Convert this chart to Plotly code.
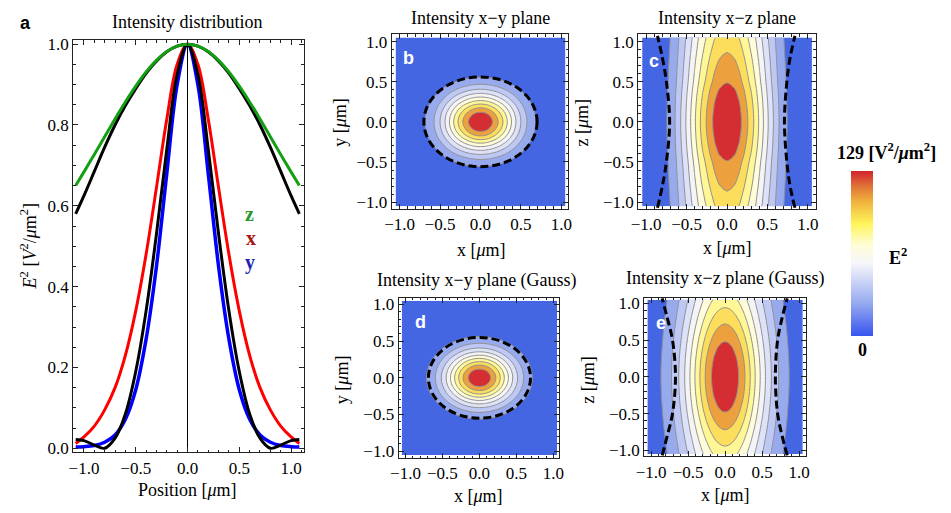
import numpy as np
import plotly.graph_objects as go

W, H = 951, 513

# ---------------- Panel a : line profiles ----------------
pos = [-1.08, -1.0, -0.9, -0.8, -0.7, -0.6, -0.5, -0.4, -0.3, -0.2, -0.1, 0.0,
       0.1, 0.2, 0.3, 0.4, 0.5, 0.6, 0.7, 0.8, 0.9, 1.0, 1.08]
z_profile = [0.65, 0.684, 0.727, 0.771, 0.815, 0.857, 0.896, 0.931, 0.96, 0.982, 0.995, 1.0,
             0.995, 0.982, 0.96, 0.931, 0.896, 0.857, 0.815, 0.771, 0.727, 0.684, 0.65]
z_fit = [0.58, 0.625, 0.685, 0.745, 0.80, 0.848, 0.89, 0.928, 0.958, 0.981, 0.995, 1.0,
         0.995, 0.981, 0.958, 0.928, 0.89, 0.848, 0.80, 0.745, 0.685, 0.625, 0.58]
x_profile = [0.012, 0.028, 0.055, 0.095, 0.15, 0.23, 0.34, 0.48, 0.645, 0.815, 0.95, 1.0,
             0.95, 0.815, 0.645, 0.48, 0.34, 0.23, 0.15, 0.095, 0.055, 0.028, 0.012]
y_profile = [0.003, 0.004, 0.007, 0.015, 0.033, 0.072, 0.145, 0.27, 0.45, 0.68, 0.90, 1.0,
             0.90, 0.68, 0.45, 0.27, 0.145, 0.072, 0.033, 0.015, 0.007, 0.004, 0.003]
xy_fit = [0.022, 0.019, 0.008, 0.0, 0.025, 0.085, 0.19, 0.34, 0.53, 0.74, 0.925, 1.0,
          0.925, 0.74, 0.53, 0.34, 0.19, 0.085, 0.025, 0.0, 0.008, 0.019, 0.022]

# ---------------- Panels b-e : field profiles (half, mirrored) ----------------
half_pos = [0.0, 0.05, 0.1, 0.15, 0.2, 0.25, 0.3, 0.35, 0.4, 0.45, 0.5, 0.55, 0.6, 0.65,
            0.7, 0.75, 0.8, 0.85, 0.9, 0.95, 1.0, 1.05]
b_x = [1.0, 0.99, 0.955, 0.90, 0.83, 0.75, 0.66, 0.565, 0.47, 0.38, 0.30, 0.23, 0.17, 0.125,
       0.09, 0.06, 0.04, 0.025, 0.015, 0.01, 0.006, 0.004]
b_y = [1.0, 0.98, 0.93, 0.85, 0.75, 0.635, 0.52, 0.41, 0.31, 0.225, 0.155, 0.105, 0.068, 0.042,
       0.025, 0.014, 0.008, 0.004, 0.002, 0.001, 0.0005, 0.0003]
c_x = [1.0, 0.99, 0.97, 0.93, 0.875, 0.81, 0.745, 0.67, 0.585, 0.5, 0.415, 0.335, 0.26, 0.19,
       0.135, 0.095, 0.065, 0.045, 0.03, 0.02, 0.015, 0.01]
c_z = [1.0, 0.999, 0.995, 0.988, 0.98, 0.97, 0.958, 0.945, 0.93, 0.912, 0.895, 0.882, 0.87, 0.857,
       0.845, 0.832, 0.818, 0.804, 0.79, 0.778, 0.765, 0.75]
d_x = [1.0, 0.989, 0.956, 0.903, 0.835, 0.754, 0.665, 0.574, 0.485, 0.40, 0.322, 0.254, 0.196,
       0.148, 0.109, 0.078, 0.055, 0.038, 0.026, 0.017, 0.011, 0.007]
d_y = [1.0, 0.982, 0.93, 0.848, 0.747, 0.634, 0.518, 0.409, 0.311, 0.228, 0.161, 0.11, 0.072,
       0.046, 0.028, 0.016, 0.009, 0.005, 0.003, 0.0014, 0.0007, 0.0003]
e_x = [1.0, 0.992, 0.97, 0.933, 0.884, 0.825, 0.758, 0.686, 0.611, 0.536, 0.463, 0.394, 0.33,
       0.272, 0.221, 0.177, 0.14, 0.108, 0.083, 0.062, 0.046, 0.034]
e_z = [1.0, 0.999, 0.995, 0.989, 0.981, 0.971, 0.958, 0.944, 0.928, 0.911, 0.892, 0.873, 0.852,
       0.831, 0.809, 0.787, 0.764, 0.742, 0.719, 0.697, 0.675, 0.653]

# dashed guides (1/e^2 outline)
b_ellipse = [0.70, 0.56]      # semi-axes x, y
d_ellipse = [0.69, 0.55]
beam_z = [-1.07, -0.8, -0.5, 0.0, 0.5, 0.8, 1.07]
c_left = [-0.86, -0.80, -0.75, -0.71, -0.75, -0.80, -0.86]
c_right = [0.84, 0.78, 0.74, 0.71, 0.74, 0.78, 0.84]
e_left = [-0.85, -0.78, -0.71, -0.67, -0.71, -0.78, -0.85]
e_right = [0.84, 0.77, 0.71, 0.68, 0.71, 0.77, 0.84]

contour_levels = [0.1, 0.9, 0.1]   # start, end, step
band_colors = ['rgb(68,102,226)', 'rgb(152,170,238)', 'rgb(190,200,245)', 'rgb(222,226,248)',
               'rgb(244,244,246)', 'rgb(255,252,218)', 'rgb(255,246,150)', 'rgb(252,222,92)',
               'rgb(236,160,62)', 'rgb(212,46,50)']
bar_colors = [[0.0, 'rgb(55,85,240)'], [0.2, 'rgb(150,170,240)'], [0.44, 'rgb(246,246,250)'],
              [0.55, 'rgb(255,253,215)'], [0.68, 'rgb(255,245,90)'], [0.82, 'rgb(240,175,60)'],
              [0.9, 'rgb(225,120,55)'], [1.0, 'rgb(210,35,45)']]


def mirror(h):
    return list(h[:0:-1]) + list(h)


full_pos = [-p for p in half_pos[:0:-1]] + half_pos


def field(rows, cols):
    return np.outer(np.array(mirror(rows)), np.array(mirror(cols)))


def px(x):
    return x / W


def py(y):
    return 1 - y / H


SERIF = 'Liberation Serif'
fig = go.Figure()

# panel a lines
for ys, col, wd in [(x_profile, '#ff0000', 3), (y_profile, '#0000ff', 3.5), (xy_fit, '#000000', 3),
                    (z_fit, '#000000', 3), (z_profile, '#12a012', 3)]:
    fig.add_trace(go.Scatter(x=pos, y=ys, mode='lines',
                             line=dict(color=col, width=wd, shape='spline', smoothing=1.0),
                             xaxis='x', yaxis='y', showlegend=False, hoverinfo='skip'))

band_cs = [[k / 9, c] for k, c in enumerate(band_colors)]
panels = [('x2', 'y2', b_y, b_x), ('x3', 'y3', c_z, c_x), ('x4', 'y4', d_y, d_x), ('x5', 'y5', e_z, e_x)]
for xa, ya, rows, cols in panels:
    fig.add_trace(go.Contour(
        x=full_pos, y=full_pos, z=field(rows, cols), xaxis=xa, yaxis=ya,
        autocontour=False,
        contours=dict(start=contour_levels[0], end=contour_levels[1], size=contour_levels[2], coloring='fill'),
        colorscale=band_cs, showscale=False,
        line=dict(color='rgb(145,145,145)', width=1, smoothing=1.0),
        hoverinfo='skip'))

DASH = '8px,4px'
for xa, ya, left, right in [('x3', 'y3', c_left, c_right), ('x5', 'y5', e_left, e_right)]:
    for xs in (left, right):
        fig.add_trace(go.Scatter(x=xs, y=beam_z, mode='lines', xaxis=xa, yaxis=ya,
                                 line=dict(color='black', width=3, dash=DASH, shape='spline'),
                                 showlegend=False, hoverinfo='skip'))

# colour bar (continuous)
fig.add_trace(go.Scatter(x=[-5], y=[-5], mode='markers', xaxis='x2', yaxis='y2', showlegend=False,
                         hoverinfo='skip',
                         marker=dict(size=1, color=[0.0], cmin=0, cmax=1, colorscale=bar_colors,
                                     showscale=True,
                                     colorbar=dict(x=px(855), xanchor='left', y=py(253.5), yanchor='middle',
                                                   len=169 / H, lenmode='fraction', thickness=22,
                                                   thicknessmode='pixels', outlinewidth=0, xpad=0, ypad=0,
                                                   showticklabels=False, ticks=''))))

shapes = []
for xa, ya, (ax_, ay_) in [('x2', 'y2', b_ellipse), ('x4', 'y4', d_ellipse)]:
    shapes.append(dict(type='circle', xref=xa, yref=ya, x0=-ax_, x1=ax_, y0=-ay_, y1=ay_,
                       line=dict(color='black', width=3, dash=DASH)))

TICK = 17


def axis(dom, rng, dtick, minor, zeroline=False):
    return dict(domain=dom, range=rng, showline=True, linecolor='#222', linewidth=1, mirror='allticks',
                ticks='inside', ticklen=5, tickcolor='#222', tickwidth=1,
                minor=dict(ticks='inside', ticklen=2.5, dtick=minor, tick0=0, tickcolor='#222', tickwidth=1),
                tickmode='linear', tick0=0, dtick=dtick, tickformat='.1f',
                tickfont=dict(family=SERIF, size=TICK, color='black'),
                showgrid=False, zeroline=zeroline, zerolinecolor='black', zerolinewidth=1, fixedrange=True)


def xdom(a, b):
    return [px(a), px(b)]


def ydom(top, bottom):
    return [py(bottom), py(top)]


layout = dict(
    width=W, height=H, margin=dict(l=0, r=0, t=0, b=0), paper_bgcolor='white', plot_bgcolor='white',
    showlegend=False, shapes=shapes,
    xaxis=dict(axis(xdom(66, 300), [-1.105, 1.124], 0.5, 0.1, zeroline=True), anchor='y'),
    yaxis=dict(axis(ydom(36, 457), [-0.0097, 1.0097], 0.2, 0.05), anchor='x'),
    xaxis2=dict(axis(xdom(389, 568), [-1.098, 1.085], 0.5, 0.1), anchor='y2'),
    yaxis2=dict(axis(ydom(30, 208), [-1.08, 1.09], 0.5, 0.1), anchor='x2'),
    xaxis3=dict(axis(xdom(639, 819), [-1.098, 1.098], 0.5, 0.1), anchor='y3'),
    yaxis3=dict(axis(ydom(30, 208), [-1.08, 1.09], 0.5, 0.1), anchor='x3'),
    xaxis4=dict(axis(xdom(396, 559), [-1.093, 1.08], 0.5, 0.1), anchor='y4'),
    yaxis4=dict(axis(ydom(299, 463), [-1.093, 1.093], 0.5, 0.1), anchor='x4'),
    xaxis5=dict(axis(xdom(645, 809), [-1.093, 1.093], 0.5, 0.1), anchor='y5'),
    yaxis5=dict(axis(ydom(299, 461), [-1.08, 1.08], 0.5, 0.1), anchor='x5'),
)


def ann(text, x, y, size=18, color='black', family=SERIF, angle=0, xanchor='center'):
    return dict(text=text, x=px(x), y=py(y), xref='paper', yref='paper', showarrow=False,
                font=dict(family=family, size=size, color=color), textangle=angle,
                xanchor=xanchor, yanchor='middle')


MU = '<i>μ</i>m'
anns = [
    ann('<b>a</b>', 18, 18, size=18, family='Liberation Sans'),
    ann('Intensity distribution', 182, 17),
    ann('Position [' + MU + ']', 182, 496),
    ann('<i>E</i><sup>2</sup> [<i>V</i><sup>2</sup>/' + MU + '<sup>2</sup>]', 21, 247, angle=-90),
    ann('<b>z</b>', 245, 214, size=20, color='rgb(40,150,40)'),
    ann('<b>x</b>', 246, 238, size=20, color='rgb(170,20,20)'),
    ann('<b>y</b>', 245, 263, size=20, color='rgb(30,30,175)'),
    ann('Intensity x−y plane', 479, 13),
    ann('Intensity x−z plane', 729, 13),
    ann('Intensity x−y plane (Gauss)', 476, 282),
    ann('Intensity x−z plane (Gauss)', 727, 279),
    ann('x [' + MU + ']', 480, 250),
    ann('x [' + MU + ']', 729, 248),
    ann('x [' + MU + ']', 477, 502),
    ann('x [' + MU + ']', 727, 501),
    ann('y [' + MU + ']', 337, 120, angle=-90),
    ann('z [' + MU + ']', 582, 120, angle=-90),
    ann('y [' + MU + ']', 338, 383, angle=-90),
    ann('z [' + MU + ']', 588, 383, angle=-90),
    ann('<b>b</b>', 406, 54, size=18, color='white', family='Liberation Sans'),
    ann('<b>c</b>', 655, 57, size=18, color='white', family='Liberation Sans'),
    ann('<b>d</b>', 418, 324, size=18, color='white', family='Liberation Sans'),
    ann('<b>e</b>', 662, 325, size=18, color='white', family='Liberation Sans'),
    ann('<b>129 [V<sup>2</sup>/<i>μ</i>m<sup>2</sup>]</b>', 891, 150, size=18),
    ann('<b>E<sup>2</sup></b>', 902, 257, size=18),
    ann('<b>0</b>', 866, 353, size=18),
]
layout['annotations'] = anns
fig.update_layout(**layout)
fig.write_html('out.html')
